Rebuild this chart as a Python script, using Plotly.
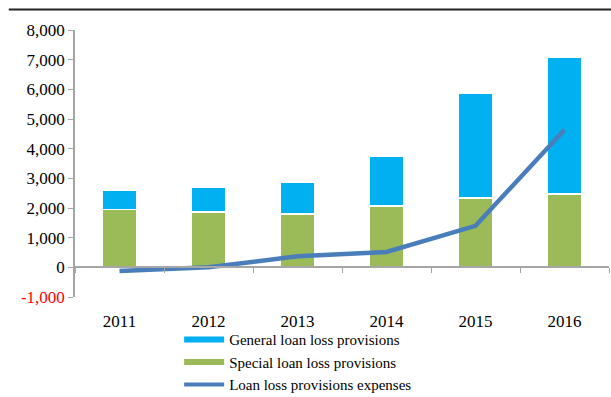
import plotly.graph_objects as go

years = ["2011", "2012", "2013", "2014", "2015", "2016"]
special = [1955, 1870, 1790, 2060, 2330, 2470]
general = [650, 830, 1080, 1690, 3550, 4620]
expenses = [-120, 0, 370, 520, 1400, 4640]

tick_vals = [-1000, 0, 1000, 2000, 3000, 4000, 5000, 6000, 7000, 8000]
tick_text = ["<span style='color:red'>-1,000</span>"] + [f"{v:,}" for v in tick_vals[1:]]

FONT = "Liberation Serif"
BLUE = "#00B0F0"
GREEN = "#9BBB59"
LINE = "#4A7EBB"
AXIS = "#A6A6A6"

fig = go.Figure()
fig.add_trace(go.Bar(x=years, y=special, name="Special loan loss provisions",
                     marker=dict(color=GREEN, line=dict(color="white", width=1.5)),
                     showlegend=False, width=0.38))
fig.add_trace(go.Bar(x=years, y=general, name="General loan loss provisions",
                     marker=dict(color=BLUE, line=dict(color="white", width=1.5)),
                     showlegend=False, width=0.38))
fig.add_trace(go.Scatter(x=years, y=expenses, mode="lines", name="Loan loss provisions expenses",
                         line=dict(color=LINE, width=4.5), showlegend=False))
# invisible trace for the zero-level category axis
fig.add_trace(go.Scatter(x=years, y=[None] * len(years), xaxis="x2", mode="markers",
                         showlegend=False, hoverinfo="skip"))
# legend entries
fig.add_trace(go.Scatter(x=[None], y=[None], mode="lines", name="General loan loss provisions",
                         line=dict(color=BLUE, width=6)))
fig.add_trace(go.Scatter(x=[None], y=[None], mode="lines", name="Special loan loss provisions",
                         line=dict(color=GREEN, width=6)))
fig.add_trace(go.Scatter(x=[None], y=[None], mode="lines", name="Loan loss provisions expenses",
                         line=dict(color=LINE, width=4)))

tickfont = dict(family=FONT, size=17, color="black")

fig.update_layout(
    width=611, height=397,
    margin=dict(l=75, r=2, t=30, b=100, autoexpand=False),
    barmode="stack",
    plot_bgcolor="white", paper_bgcolor="white",
    font=dict(family=FONT, size=17, color="black"),
    xaxis=dict(type="category", categoryarray=years, range=[-0.5, 5.5],
               showline=False, ticks="", showgrid=False, zeroline=False,
               ticklabelstandoff=12, tickfont=tickfont),
    xaxis2=dict(type="category", categoryarray=years, range=[-0.5, 5.5],
                overlaying="x", anchor="free", position=1000 / 9000, side="bottom",
                showline=True, linecolor=AXIS, linewidth=1.5,
                ticks="outside", tickson="boundaries", ticklen=5, tickcolor=AXIS,
                showticklabels=False, showgrid=False, zeroline=False),
    yaxis=dict(range=[-1000, 8000], tickvals=tick_vals, ticktext=tick_text,
               showline=True, linecolor=AXIS, linewidth=1.5,
               ticks="outside", ticklen=5, tickcolor=AXIS,
               showgrid=False, zeroline=False, tickfont=tickfont),
    legend=dict(x=0.195, y=-0.098, xanchor="left", yanchor="top",
                font=dict(family=FONT, size=15, color="black"), traceorder="normal",
                bgcolor="rgba(0,0,0,0)", itemwidth=40),
    shapes=[dict(type="line", xref="paper", yref="paper",
                 x0=-0.124, x1=1.01, y0=1.077, y1=1.077,
                 line=dict(color="#222222", width=2))],
)

fig.write_html("out.html", config={"displayModeBar": False},
               post_script="document.body.style.margin='0';document.body.style.overflow='hidden';")
